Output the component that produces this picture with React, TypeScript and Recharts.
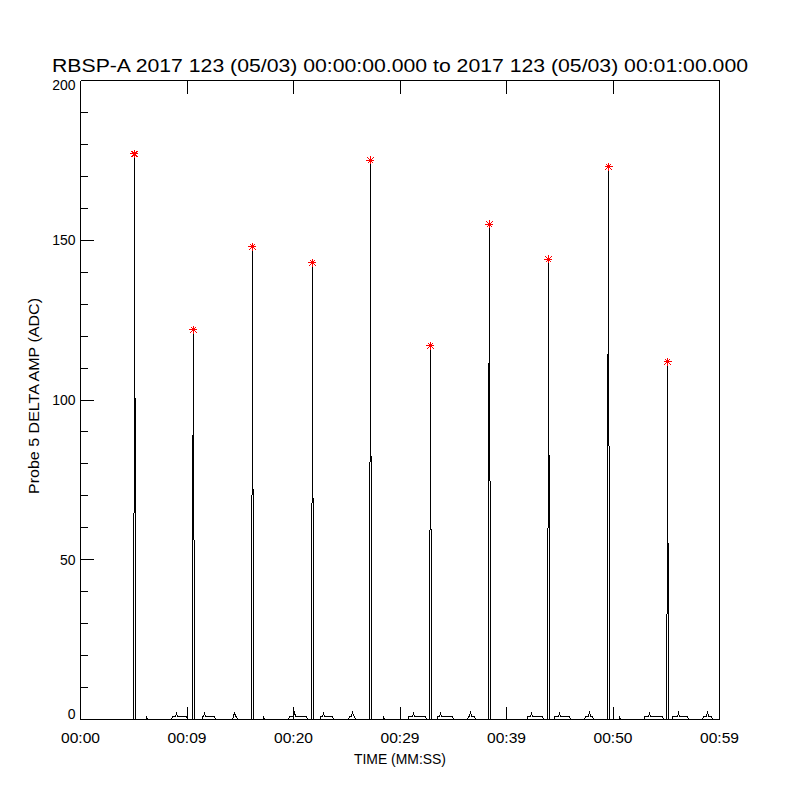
import React from 'react';
import { ComposedChart, Line, Scatter, XAxis, YAxis, Label } from 'recharts';

// time (s) and probe amplitude (ADC)
const probeSamples: [number, number][] = [
  [0, 0],
  [4.98, 0], [4.98, 20], [5.07, 108], [5.07, 177], [5.16, 33], [5.16, 0],
  [6.2, 0], [6.2, 1], [6.29, 0],
  [8.54, 0], [8.64, 1], [8.92, 1], [9.01, 2], [9.11, 1], [9.95, 1], [10.05, 0],
  [10.52, 0], [10.52, 68], [10.61, 110], [10.61, 122], [10.7, 0],
  [11.46, 0], [11.46, 1], [11.55, 1], [11.64, 2], [11.74, 1], [12.58, 1], [12.68, 0],
  [14.27, 0], [14.37, 1], [14.46, 2.2], [14.55, 1], [14.65, 1], [14.74, 0],
  [16.06, 0], [16.06, 59], [16.15, 82], [16.15, 148], [16.24, 7], [16.24, 0],
  [17.18, 0], [17.18, 1], [17.28, 0],
  [19.53, 0], [19.62, 1], [20.0, 1], [20.09, 2.2], [20.19, 1], [21.22, 1], [21.31, 0],
  [21.69, 0], [21.69, 28], [21.78, 100], [21.78, 143], [21.88, 0],
  [22.54, 0], [22.54, 1], [22.72, 1], [22.82, 2], [22.91, 1], [23.66, 1], [23.76, 0],
  [25.16, 0], [25.26, 1], [25.45, 1], [25.54, 2.5], [25.63, 1.2], [25.73, 1], [25.82, 0],
  [27.14, 0], [27.14, 37], [27.23, 124], [27.23, 175], [27.32, 0],
  [28.45, 0], [28.45, 1], [28.54, 0],
  [30.8, 0], [30.8, 1], [31.17, 1], [31.27, 2], [31.36, 1], [32.39, 1], [32.49, 0],
  [32.77, 0], [32.77, 54], [32.86, 64], [32.86, 117], [32.96, 6], [32.96, 0],
  [33.52, 0], [33.52, 1], [33.71, 1], [33.8, 2], [33.9, 1], [34.93, 1], [35.02, 0],
  [36.34, 0], [36.43, 1], [36.53, 1], [36.62, 2.5], [36.71, 1], [37.0, 1], [37.09, 0],
  [38.31, 0], [38.31, 87], [38.4, 133], [38.4, 155], [38.5, 0],
  [41.97, 0], [41.97, 1], [42.25, 1], [42.35, 2], [42.44, 1], [43.38, 1], [43.47, 0],
  [43.85, 0], [43.85, 21], [43.94, 93], [43.94, 144], [44.04, 26], [44.04, 0],
  [44.51, 0], [44.51, 1], [44.88, 1], [44.98, 2], [45.07, 1], [45.92, 1], [46.01, 0],
  [47.32, 0], [47.42, 1], [47.7, 1], [47.79, 2.5], [47.89, 1], [48.08, 1], [48.17, 0],
  [49.48, 0], [49.48, 101], [49.58, 127], [49.58, 173], [49.67, 0],
  [50.61, 0], [50.61, 1], [50.7, 0],
  [52.96, 0], [52.96, 1], [53.33, 1], [53.43, 2], [53.52, 1], [54.65, 1], [54.74, 0],
  [55.02, 0], [55.02, 5], [55.12, 58], [55.12, 112], [55.21, 0],
  [55.59, 0], [55.59, 1], [56.06, 1], [56.15, 2], [56.24, 1], [57.0, 1], [57.09, 0],
  [58.4, 0], [58.5, 1], [58.78, 1], [58.87, 2.5], [58.97, 1], [59.25, 1], [59.34, 0],
  [60, 0],
];

const peakTimes = [5.07, 10.61, 16.15, 21.78, 27.23, 32.86, 38.4, 43.94, 49.58, 55.12];
const peakAmps = [177, 122, 148, 143, 175, 117, 155, 144, 173, 112];

const timeTicks = [0, 10, 20, 30, 40, 50, 60];
const timeTickLabels = ['00:00', '00:09', '00:20', '00:29', '00:39', '00:50', '00:59'];
const ampTicks = [0, 10, 20, 30, 40, 50, 60, 70, 80, 90, 100, 110, 120, 130, 140, 150, 160, 170, 180, 190, 200];

const lineData = probeSamples.map(([t, amp]) => ({ t, amp }));
const peakData = peakTimes.map((t, i) => ({ t, amp: peakAmps[i] }));

const FONT = '"Liberation Sans", Arial, sans-serif';
const MAJOR = 13;
const MINOR = 7;

function BottomTick(props: any) {
  const { x, y, payload } = props;
  const label = timeTickLabels[timeTicks.indexOf(payload.value)];
  return (
    <g>
      <line x1={x} x2={x} y1={y} y2={y - MAJOR} stroke="#000" shapeRendering="crispEdges" />
      <text x={x} y={y + 23.5} textAnchor="middle" fontSize={14} fontFamily={FONT} fill="#000"
        textLength={39} lengthAdjust="spacingAndGlyphs">{label}</text>
    </g>
  );
}

function TopTick(props: any) {
  const { x, y } = props;
  return <line x1={x} x2={x} y1={y} y2={y + MAJOR} stroke="#000" shapeRendering="crispEdges" />;
}

function LeftTick(props: any) {
  const { x, y, payload } = props;
  const v = payload.value;
  const major = v % 50 === 0;
  // IDL nudges the end labels so they stay inside the axis range
  const dy = v === 0 ? -0.5 : v === 200 ? 9.5 : 5;
  return (
    <g>
      <line x1={x} x2={x + (major ? MAJOR : MINOR)} y1={y} y2={y} stroke="#000" shapeRendering="crispEdges" />
      {major && (
        <text x={x - 5} y={y + dy} textAnchor="end" fontSize={14} fontFamily={FONT} fill="#000">{v}</text>
      )}
    </g>
  );
}

function RightTick(props: any) {
  const { x, y, payload } = props;
  const major = payload.value % 50 === 0;
  return <line x1={x} x2={x - (major ? MAJOR : MINOR)} y1={y} y2={y} stroke="#000" shapeRendering="crispEdges" />;
}

function Asterisk(props: any) {
  const { cx, cy } = props;
  if (cx == null || cy == null) return <g />;
  return (
    <g stroke="#ff0000" strokeWidth={1} shapeRendering="crispEdges">
      <line x1={cx - 4} x2={cx + 4} y1={cy} y2={cy} />
      <line x1={cx} x2={cx} y1={cy - 4} y2={cy + 4} />
      <line x1={cx - 3} x2={cx + 3} y1={cy - 3} y2={cy + 3} />
      <line x1={cx - 3} x2={cx + 3} y1={cy + 3} y2={cy - 3} />
    </g>
  );
}

export default function App() {
  return (
    <div style={{ position: 'absolute', left: 0, top: 0, width: 800, height: 800, background: '#fff' }}>
      <style>{'.recharts-line-curve{shape-rendering:crispEdges}.recharts-cartesian-axis-line{shape-rendering:crispEdges}'}</style>
      <ComposedChart width={800} height={800} data={lineData} margin={{ top: 0, right: 0, bottom: 0, left: 0 }}>
        <XAxis
          dataKey="t"
          type="number"
          domain={[0, 60]}
          ticks={timeTicks}
          interval={0}
          height={80.5}
          tickSize={0}
          tickMargin={0}
          tickLine={false}
          axisLine={{ stroke: '#000' }}
          tick={(p: any) => <BottomTick {...p} />}
        >
          <Label
            content={(p: any) => {
              const vb = p.viewBox;
              return (
                <text x={vb.x + vb.width / 2} y={vb.y + 44.5} textAnchor="middle" fontSize={14}
                  fontFamily={FONT} fill="#000" textLength={92} lengthAdjust="spacingAndGlyphs">
                  TIME (MM:SS)
                </text>
              );
            }}
          />
        </XAxis>
        <XAxis
          xAxisId="top"
          orientation="top"
          dataKey="t"
          type="number"
          domain={[0, 60]}
          ticks={timeTicks}
          interval={0}
          height={80.5}
          tickSize={0}
          tickMargin={0}
          tickLine={false}
          axisLine={{ stroke: '#000' }}
          tick={(p: any) => <TopTick {...p} />}
        >
          <Label
            content={(p: any) => {
              const vb = p.viewBox;
              return (
                <text x={400} y={vb.y + 72} textAnchor="middle" fontSize={18} fontFamily={FONT}
                  fill="#000" textLength={696} lengthAdjust="spacingAndGlyphs">
                  RBSP-A 2017 123 (05/03) 00:00:00.000 to 2017 123 (05/03) 00:01:00.000
                </text>
              );
            }}
          />
        </XAxis>
        <YAxis
          type="number"
          domain={[0, 200]}
          ticks={ampTicks}
          interval={0}
          width={80.5}
          tickSize={0}
          tickMargin={0}
          tickLine={false}
          axisLine={{ stroke: '#000' }}
          tick={(p: any) => <LeftTick {...p} />}
        >
          <Label
            content={(p: any) => {
              const vb = p.viewBox;
              const cx = vb.x + 39;
              const cy = vb.y + vb.height / 2 - 4;
              return (
                <text x={cx} y={cy} transform={`rotate(-90 ${cx} ${cy})`} textAnchor="middle" fontSize={14}
                  fontFamily={FONT} fill="#000" textLength={196} lengthAdjust="spacingAndGlyphs">
                  Probe 5 DELTA AMP (ADC)
                </text>
              );
            }}
          />
        </YAxis>
        <YAxis
          yAxisId="right"
          orientation="right"
          type="number"
          domain={[0, 200]}
          ticks={ampTicks}
          interval={0}
          width={80.5}
          tickSize={0}
          tickMargin={0}
          tickLine={false}
          axisLine={{ stroke: '#000' }}
          tick={(p: any) => <RightTick {...p} />}
        />
        <Line
          type="linear"
          dataKey="amp"
          stroke="#000"
          strokeWidth={1}
          dot={false}
          activeDot={false}
          isAnimationActive={false}
        />
        <Scatter data={peakData} dataKey="amp" shape={(p: any) => <Asterisk {...p} />} isAnimationActive={false} />
      </ComposedChart>
    </div>
  );
}
